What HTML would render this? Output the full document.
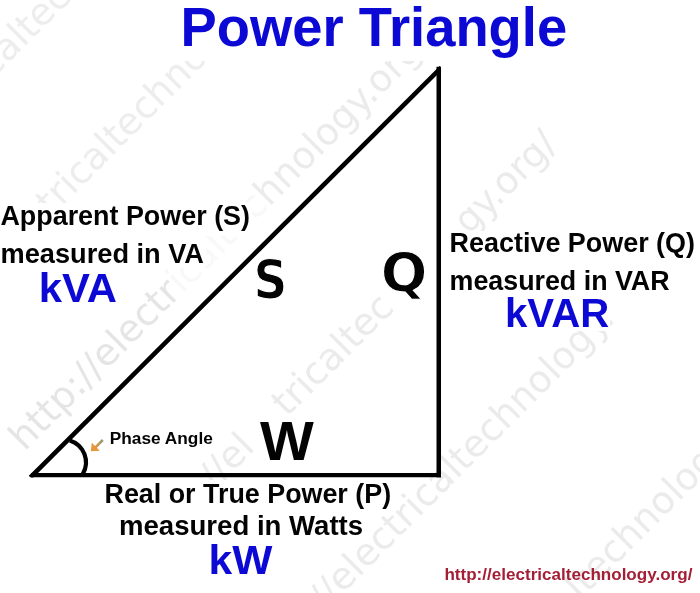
<!DOCTYPE html>
<html>
<head>
<meta charset="utf-8">
<title>Power Triangle</title>
<style>
html,body{margin:0;padding:0;background:#fff;}
body{width:700px;height:593px;overflow:hidden;}
svg{display:block;filter:blur(0.45px);}
text{font-family:"Liberation Sans",sans-serif;}
.b{font-weight:bold;fill:#030303;}
.blue{font-weight:bold;fill:#0c09d4;}
.dv{font-family:"DejaVu Sans","Liberation Sans",sans-serif;}
.dvc{font-family:"DejaVu Sans Condensed","DejaVu Sans","Liberation Sans",sans-serif;}
.url{font-weight:bold;fill:#a41f36;}
.wm{font-family:"DejaVu Sans","Liberation Sans",sans-serif;font-weight:normal;font-size:37.6px;}
</style>
</head>
<body>
<svg width="700" height="593" viewBox="0 0 700 593">
<rect width="700" height="593" fill="#ffffff"/>

<!-- watermarks -->
<g id="wm">
<text class="wm" fill="#ededed" transform="translate(-7.4,78.7) rotate(-45)" textLength="136.5" lengthAdjust="spacingAndGlyphs">caltech</text>
<text class="wm" fill="#ededed" transform="translate(51.4,216.9) rotate(-45)" textLength="257.5" lengthAdjust="spacingAndGlyphs">tricaltechnolo</text>
<text class="wm" fill="#e5e5e5" transform="translate(24.6,451.8) rotate(-45)" textLength="222.8" lengthAdjust="spacingAndGlyphs">http://electr</text>
<text class="wm" fill="#f8f8f8" transform="translate(182.1,294.3) rotate(-45)" textLength="123.2" lengthAdjust="spacingAndGlyphs">icaltec</text>
<text class="wm" fill="#ebebeb" transform="translate(269.2,207.2) rotate(-45)" textLength="231.2" lengthAdjust="spacingAndGlyphs">hnology.org/</text>
<text class="wm" fill="#ebebeb" transform="translate(214.4,490.3) rotate(-45)" textLength="58.9" lengthAdjust="spacingAndGlyphs">//el</text>
<text class="wm" fill="#ebebeb" transform="translate(287.1,417.6) rotate(-45)" textLength="153.4" lengthAdjust="spacingAndGlyphs">tricaltec</text>
<text class="wm" fill="#ebebeb" transform="translate(469.1,235.6) rotate(-45)" textLength="127.0" lengthAdjust="spacingAndGlyphs">gy.org/</text>
<text class="wm" fill="#ebebeb" transform="translate(315.6,620.9) rotate(-45)" textLength="425.6" lengthAdjust="spacingAndGlyphs">://electricaltechnology.</text>
<text class="wm" fill="#ebebeb" transform="translate(579.8,600.8) rotate(-45)" textLength="225.8" lengthAdjust="spacingAndGlyphs">ltechnology.</text>
</g>
<!-- white boxes behind labels -->
<g fill="#ffffff">
<rect x="180" y="0" width="390" height="61"/>
<rect x="0" y="203" width="252" height="33"/>
<rect x="0" y="236" width="206" height="32"/>
<rect x="38" y="268" width="82" height="37"/>
<rect x="448" y="231" width="250" height="31"/>
<rect x="448" y="262" width="223" height="34"/>
<rect x="505" y="294" width="105" height="37"/>
<rect x="104" y="480" width="288" height="31"/>
<rect x="118" y="511" width="246" height="30"/>
<rect x="209" y="541" width="66" height="36"/>
<rect x="256" y="419" width="62" height="44"/>
<rect x="381" y="249" width="48" height="52"/>
<rect x="108" y="429" width="106" height="21"/>
</g>

<!-- triangle -->
<clipPath id="tc"><rect x="0" y="0" width="441.05" height="477.45"/></clipPath>
<g stroke="#000" fill="none" stroke-linecap="butt" clip-path="url(#tc)">
<line x1="438.8" y1="66.8" x2="438.8" y2="477.7" stroke-width="4.6"/>
<line x1="31.2" y1="475.2" x2="441.1" y2="475.2" stroke-width="4.5"/>
<line x1="441.2" y1="67.6" x2="30.4" y2="477.4" stroke-width="4.6"/>
<path d="M69.8 440.4 A23 23 0 0 1 82.8 474" stroke-width="4.2"/>
</g>

<!-- arrow -->
<defs><linearGradient id="ag" gradientUnits="userSpaceOnUse" x1="103" y1="440" x2="95" y2="448"><stop offset="0" stop-color="#8f9c7c"/><stop offset="1" stop-color="#e8963c"/></linearGradient></defs>
<g>
<line x1="102.8" y1="440" x2="95.5" y2="447.3" stroke="url(#ag)" stroke-width="2.6"/>
<polygon points="90.8,451.2 91.8,442.8 99.8,450.8" fill="#e8963c"/>
</g>

<!-- labels -->
<text class="blue" x="180.6" y="46.4" font-size="56" textLength="386.5" lengthAdjust="spacingAndGlyphs">Power Triangle</text>
<text class="b" x="0.4" y="225.3" font-size="27" textLength="249.6" lengthAdjust="spacingAndGlyphs">Apparent Power (S)</text>
<text class="b" x="0.6" y="263.1" font-size="27" textLength="203.4" lengthAdjust="spacingAndGlyphs">measured in VA</text>
<text class="blue" x="38.7" y="301.5" font-size="41.3" textLength="78.3" lengthAdjust="spacingAndGlyphs">kVA</text>
<text class="b" x="449.6" y="252.2" font-size="27" textLength="245.4" lengthAdjust="spacingAndGlyphs">Reactive Power (Q)</text>
<text class="b" x="449.6" y="290.0" font-size="27" textLength="220.0" lengthAdjust="spacingAndGlyphs">measured in VAR</text>
<text class="blue" x="505.0" y="327.1" font-size="41.3" textLength="104.2" lengthAdjust="spacingAndGlyphs">kVAR</text>
<text class="b" x="104.5" y="503.3" font-size="27" textLength="286.6" lengthAdjust="spacingAndGlyphs">Real or True Power (P)</text>
<text class="b" x="119.0" y="535.4" font-size="27" textLength="244.1" lengthAdjust="spacingAndGlyphs">measured in Watts</text>
<text class="blue" x="208.5" y="574.0" font-size="41.3" textLength="63.8" lengthAdjust="spacingAndGlyphs">kW</text>
<text class="b dvc" x="253.6" y="297.9" font-size="53.5" textLength="33.9" lengthAdjust="spacingAndGlyphs" stroke="#ffffff" stroke-width="1.1">S</text>
<text class="b dv" x="380.8" y="291.2" font-size="53.5" textLength="46.7" lengthAdjust="spacingAndGlyphs" stroke="#ffffff" stroke-width="1.1">Q</text>
<text class="b" x="260.0" y="460.4" font-size="55.4" textLength="53.8" lengthAdjust="spacingAndGlyphs">W</text>
<text class="b" x="109.8" y="444.0" font-size="17.4" textLength="103.0" lengthAdjust="spacingAndGlyphs">Phase Angle</text>
<text class="url" x="444.4" y="580.0" font-size="17" textLength="248.0" lengthAdjust="spacingAndGlyphs">http://electricaltechnology.org/</text>
</svg>
</body>
</html>
